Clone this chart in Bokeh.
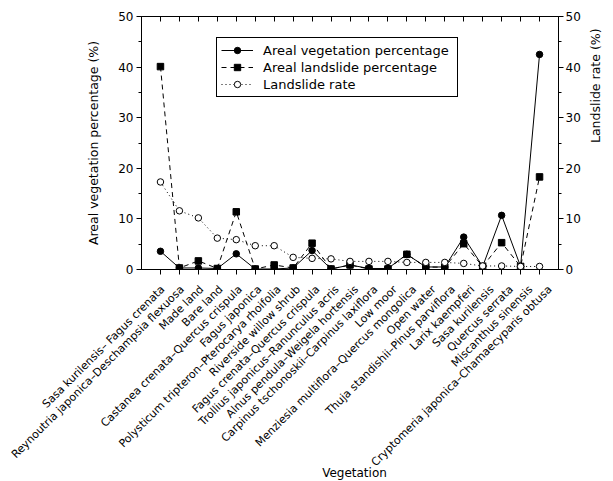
import math
from bokeh.plotting import figure
from bokeh.layouts import column
from bokeh.models import (LinearAxis, Range1d, FixedTicker, Legend, LegendItem,
                          ColumnDataSource)
from bokeh.core.properties import value
from bokeh.embed import file_html
from bokeh.resources import INLINE

vegetation = [
    "Sasa kurilensis\u2013 Fagus crenata",
    "Reynoutria japonica\u2013Deschampsia flexuosa",
    "Made land",
    "Bare land",
    "Castanea crenata\u2013Quercus crispula",
    "Fagus japonica",
    "Polysticum tripteron\u2013Pterocarya rhoifolia",
    "Riverside willow shrub",
    "Fagus crenata\u2013Quercus crispula",
    "Trollius japonicus\u2013Ranunculus acris",
    "Alnus pendula\u2013Weigela hortensis",
    "Carpinus tschonoskii\u2013Carpinus laxiflora",
    "Low moor",
    "Menziesia multiflora\u2013Quercus mongolica",
    "Open water",
    "Thuja standishii\u2013Pinus parviflora",
    "Larix kaempferi",
    "Sasa kurilensis",
    "Quercus serrata",
    "Miscanthus sinensis",
    "Cryptomeria japonica\u2013Chamaecyparis obtusa",
]
areal_vegetation = [3.6, 0.3, 0.3, 0.2, 3.1, 0.1, 0.1, 0.3, 3.75, 0.1, 0.9,
                    0.2, 0.2, 3.0, 0.5, 0.5, 6.4, 0.6, 10.7, 0.6, 42.5]
areal_landslide = [40.1, 0.3, 1.7, 0.2, 11.4, 0.1, 0.9, 0.3, 5.2, 0.1, 0.9,
                   0.1, 0.1, 3.0, 0.5, 0.45, 5.1, 0.6, 5.3, 0.6, 18.3]
landslide_rate = [17.3, 11.6, 10.2, 6.2, 5.9, 4.7, 4.7, 2.4, 2.2, 2.1, 1.6,
                  1.6, 1.6, 1.4, 1.4, 1.4, 1.2, 0.7, 0.7, 0.6, 0.6]
y_ticks = [0, 10, 20, 30, 40, 50]
y_minor = [5, 15, 25, 35, 45]

xs = list(range(1, len(vegetation) + 1))
FONT = "DejaVu Sans"

# layout (pixels)
W = 613
LEFT, RIGHT, TOP = 141, 46, 16
FRAME_W, FRAME_H = W - LEFT - RIGHT, 253
BOTTOM1 = 10
H1 = TOP + FRAME_H + BOTTOM1
H2 = 481 - H1

x_end = len(vegetation) + 1
p = figure(width=W, height=H1, x_range=Range1d(0, x_end),
           y_range=Range1d(0, 50), output_backend="svg", toolbar_location=None,
           min_border_left=LEFT, min_border_right=RIGHT, min_border_top=TOP,
           min_border_bottom=BOTTOM1, frame_align=False)
p.extra_y_ranges = {"right": Range1d(0, 50)}
p.xgrid.visible = False
p.ygrid.visible = False
p.outline_line_color = "black"

# bottom axis (ticks only; labels drawn below)
xa = p.xaxis[0]
xa.ticker = FixedTicker(ticks=xs, minor_ticks=[])
xa.major_label_text_font_size = "0px"
xa.major_label_text_color = None
xa.major_label_standoff = 0
xa.major_tick_in = 0
xa.major_tick_out = 5
xa.axis_line_color = "black"

# left axis
ya = p.yaxis[0]
ya.ticker = FixedTicker(ticks=y_ticks, minor_ticks=y_minor)
ya.major_label_text_font = FONT
ya.major_label_text_font_size = "12px"
ya.major_label_text_color = "black"
ya.major_label_standoff = 3
ya.major_tick_in = 0
ya.major_tick_out = 5
ya.minor_tick_in = 0
ya.minor_tick_out = 3
ya.axis_label = "Areal vegetation percentage (%)"
ya.axis_label_text_font = FONT
ya.axis_label_text_font_size = "12.5px"
ya.axis_label_text_font_style = "normal"
ya.axis_label_text_color = "black"
ya.axis_label_standoff = 14

# right axis
ra = LinearAxis(y_range_name="right",
                ticker=FixedTicker(ticks=y_ticks, minor_ticks=y_minor))
ra.major_label_text_font = FONT
ra.major_label_text_font_size = "12px"
ra.major_label_text_color = "black"
ra.major_label_standoff = 2
ra.major_tick_in = 0
ra.major_tick_out = 5
ra.minor_tick_in = 0
ra.minor_tick_out = 3
ra.axis_label = "Landslide rate (%)"
ra.axis_label_orientation = math.pi / 2
ra.axis_label_text_font = FONT
ra.axis_label_text_font_size = "12.5px"
ra.axis_label_text_font_style = "normal"
ra.axis_label_text_color = "black"
ra.axis_label_standoff = 12
p.add_layout(ra, "right")

# top axis (ticks only)
ta = LinearAxis(ticker=FixedTicker(ticks=xs, minor_ticks=[]))
ta.major_label_text_font_size = "0px"
ta.major_label_text_color = None
ta.major_label_standoff = 0
ta.major_tick_in = 5
ta.major_tick_out = 0
ta.minor_tick_line_color = None
p.add_layout(ta, "above")

# series
l1 = p.line(xs, areal_vegetation, line_color="black", line_width=1)
s1 = p.scatter(xs, areal_vegetation, marker="circle", size=6.5,
               fill_color="black", line_color="black")
l2 = p.line(xs, areal_landslide, line_color="black", line_width=1,
            line_dash="5 4")
s2 = p.scatter(xs, areal_landslide, marker="square", size=6.5,
               fill_color="black", line_color="black")
l3 = p.line(xs, landslide_rate, line_color="black", line_width=1,
            line_dash="1 3", y_range_name="right")
s3 = p.scatter(xs, landslide_rate, marker="circle", size=6.5,
               fill_color="white", line_color="black", y_range_name="right")

legend = Legend(items=[
    LegendItem(label="Areal vegetation percentage", renderers=[l1, s1]),
    LegendItem(label="Areal landslide percentage", renderers=[l2, s2]),
    LegendItem(label="Landslide rate", renderers=[l3, s3]),
], location=(75, 172))
legend.border_line_color = "black"
legend.border_line_width = 1
legend.border_line_alpha = 1
legend.background_fill_color = "white"
legend.background_fill_alpha = 1
legend.label_text_font = FONT
legend.label_text_font_size = "13px"
legend.label_text_color = "black"
legend.glyph_width = 32
legend.glyph_height = 16
legend.label_height = 16
legend.label_width = 190
legend.label_standoff = 10
legend.spacing = 1
legend.padding = 4
legend.margin = 0
p.add_layout(legend, "center")

# category labels and axis title, drawn on a strip below with the same x scale
px_per_unit = FRAME_W / x_end
x0 = -LEFT / px_per_unit
p2 = figure(width=W, height=H2, x_range=Range1d(x0, x_end),
            y_range=Range1d(0, H2), output_backend="svg",
            toolbar_location=None, title=None,
            x_axis_location=None, y_axis_location=None,
            min_border_left=0, min_border_right=RIGHT, min_border_top=0,
            min_border_bottom=0, frame_align=False)
p2.xgrid.visible = False
p2.ygrid.visible = False
p2.outline_line_color = None

label_y = H2 - (287 - H1)
label_src = ColumnDataSource(dict(x=xs, y=[label_y] * len(xs), text=vegetation))
p2.text(x="x", y="y", text="text", source=label_src, angle=math.pi / 4,
        text_align="right", text_baseline="middle", x_offset=2,
        text_font=value(FONT), text_font_size=value("11px"),
        text_color="black")
p2.text(x=[x_end / 2], y=[9], text=["Vegetation"], text_align="center",
        text_baseline="middle", text_font=value(FONT),
        text_font_size=value("12px"), text_color="black")

layout = column(p, p2, spacing=0)
open("out.html", "w").write(file_html(layout, INLINE))
